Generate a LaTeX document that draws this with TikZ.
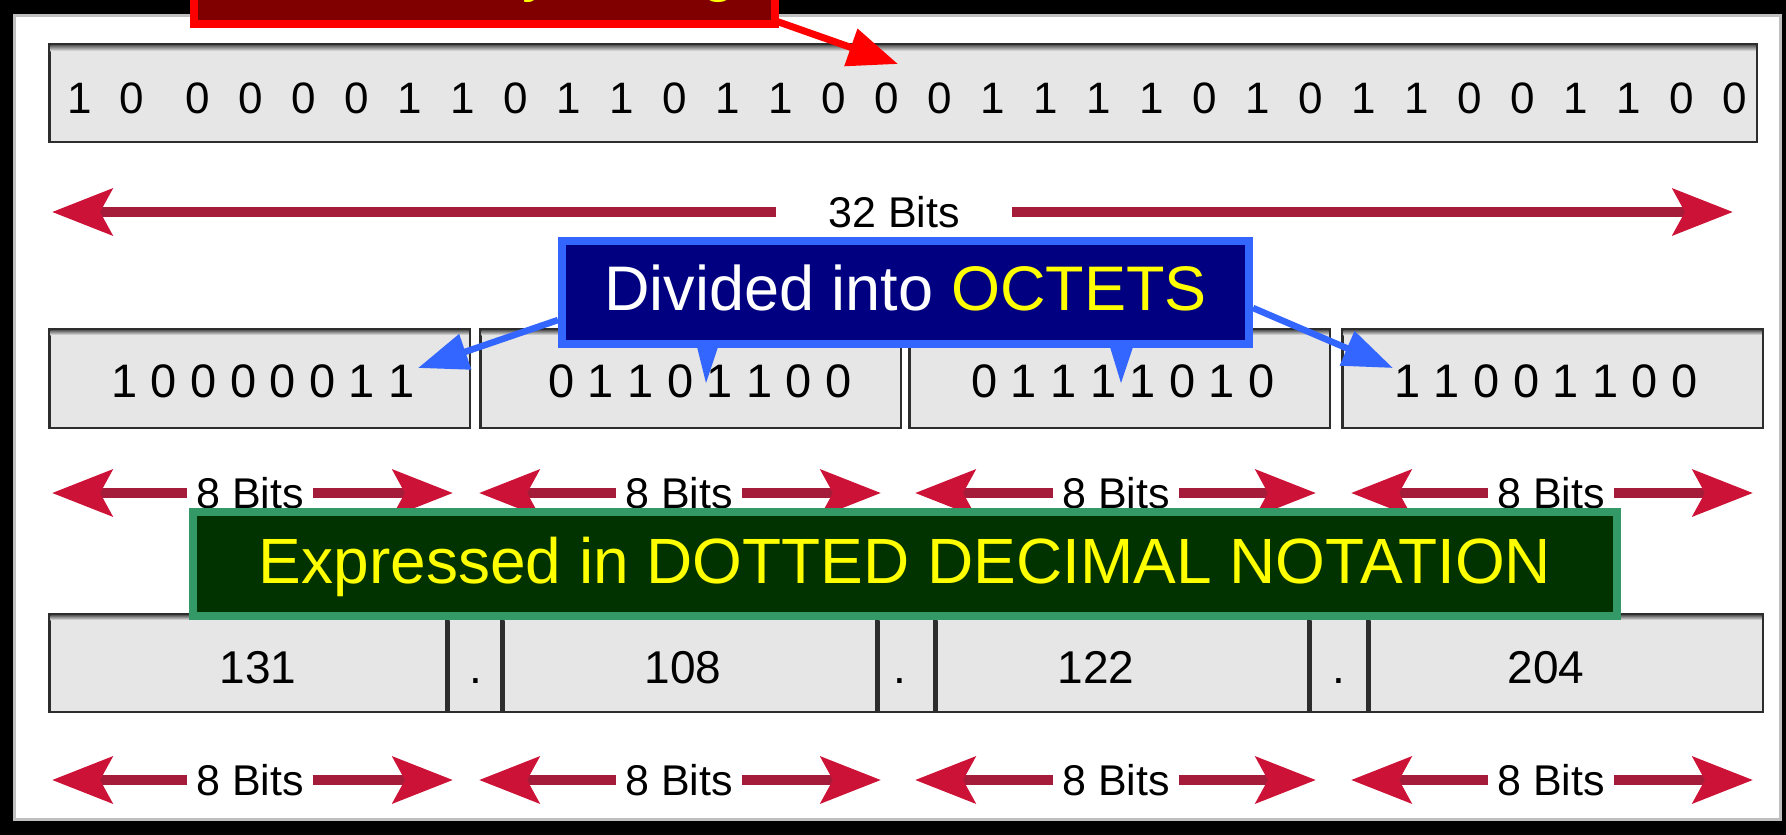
\documentclass[tikz,border=0pt]{standalone}
\usepackage{fontspec}
\setmainfont{Liberation Sans}
\usetikzlibrary{arrows.meta,calc}
\definecolor{cellfill}{RGB}{230,230,230}
\definecolor{celldraw}{RGB}{45,45,45}
\definecolor{crimhead}{RGB}{205,18,55}
\definecolor{crimshaft}{RGB}{165,28,58}
\definecolor{calloutblue}{RGB}{51,102,255}
\definecolor{navyfill}{RGB}{0,0,128}
\definecolor{maroonfill}{RGB}{128,0,0}
\definecolor{greenborder}{RGB}{51,153,102}
\definecolor{darkgreenfill}{RGB}{0,51,0}
\definecolor{ylw}{RGB}{255,255,0}
\newcommand\fs[1]{\fontsize{#1}{#1}\selectfont}
\newcommand\db[1]{\makebox[39.6pt]{#1}}
\newcommand\octd[8]{\db{#1}\db{#2}\db{#3}\db{#4}\db{#5}\db{#6}\db{#7}\db{#8}}
\tikzset{
  cell/.style={draw=celldraw, fill=cellfill, line width=2.5pt, inner sep=0pt},
  bitsnum/.style={font=\fs{44}, anchor=base, inner sep=0pt},
  octnum/.style={font=\fs{47}, anchor=base, inner sep=0pt},
  decnum/.style={font=\fs{46}, anchor=base, inner sep=0pt},
  bitlbl/.style={font=\fs{43}, text height=30pt, text depth=0pt, inner xsep=9pt, inner ysep=0pt},
  bitarrow/.style={draw=crimshaft, line width=10.5pt, -{Stealth[length=60pt, width=46pt, inset=12pt, color=crimhead]}},
  bluearrow/.style={draw=calloutblue, line width=6.5pt, -{Triangle[length=50pt, width=36pt]}},
  redptr/.style={draw=red, line width=7pt, -{Triangle[length=50pt, width=38pt]}},
  redbox/.style={draw=red, fill=maroonfill, line width=8pt, inner sep=0pt, text=ylw, font=\fs{63}},
  bluebox/.style={draw=calloutblue, fill=navyfill, line width=8pt, inner sep=0pt, text=white, font=\fs{63}},
  greenbox/.style={draw=greenborder, fill=darkgreenfill, line width=8pt, inner sep=0pt, text=ylw, font=\fs{64}},
  topshade/.style={top color=black!60, bottom color=cellfill}
}
\begin{document}
\begin{tikzpicture}[x=1pt,y=-1pt]
\useasboundingbox (0,0) rectangle (1786,835);
\clip (0,0) rectangle (1786,835);
% frame
\fill[black] (0,0) rectangle (1786,835);
\fill[white] (13,14) rectangle (1782,821);
\draw[black!25, line width=3pt] (14.5,15.5) rectangle (1780.5,819.5);

% 32-bit string
\node[cell, minimum width=1707.5pt, minimum height=97.5pt] (bin) at (903,93) {};
\shade[topshade] ([shift={(2.5pt,-2.5pt)}]bin.north west) rectangle ([shift={(-2.5pt,-8pt)}]bin.north east);
\foreach \d [count=\i from 0] in {1,0,0,0,0,0,1,1,0,1,1,0,1,1,0,0,0,1,1,1,1,0,1,0,1,1,0,0,1,1,0,0} {
  \pgfmathsetmacro\xx{\i==0 ? 80 : (\i==1 ? 132 : 198+53*(\i-2))}
  \node[bitsnum] (b\i) at (\xx,113) {\d};
}
\node[bitlbl, inner xsep=52pt] (l32) at (894,212) {32 Bits};
\coordinate (t32l) at (52,212);
\coordinate (t32r) at (1733,212);
\draw[bitarrow] (l32.west) -- (t32l);
\draw[bitarrow] (l32.east) -- (t32r);

% octets
\foreach \cx/\w [count=\k] in {259.5/420.5, 690.5/420.5, 1119.5/420.5, 1552.5/420.5} {
  \node[cell, minimum width=\w pt, minimum height=98.5pt] (oc\k) at (\cx,378.5) {};
  \shade[topshade] ([shift={(2.5pt,-2.5pt)}]oc\k.north west) rectangle ([shift={(-2.5pt,-7pt)}]oc\k.north east);
}
\node[octnum] (o1) at (263,397) {\octd 10000011};
\node[octnum] (o2) at (700,397) {\octd 01101100};
\node[octnum] (o3) at (1123,397) {\octd 01111010};
\node[octnum] (o4) at (1546,397) {\octd 11001100};

% decimal row
\foreach \l/\r [count=\k] in {48/447, 447/502, 502/877, 877/935, 935/1309, 1309/1368, 1368/1764} {
  \pgfmathsetmacro\cw{\r-\l-2.5}
  \pgfmathsetmacro\cx{(\l+\r)/2}
  \node[cell, minimum width=\cw pt, minimum height=97.5pt] (dc\k) at (\cx,663) {};
  \shade[topshade] ([shift={(2.5pt,-2.5pt)}]dc\k.north west) rectangle ([shift={(-2.5pt,-7pt)}]dc\k.north east);
}
\node[decnum] (d1) at (258,683) {131};
\node[decnum] (p1) at (476,683) {.};
\node[decnum] (d2) at (683,683) {108};
\node[decnum] (p2) at (900,683) {.};
\node[decnum] (d3) at (1096,683) {122};
\node[decnum] (p3) at (1339,683) {.};
\node[decnum] (d4) at (1546,683) {204};

% 8-bit arrows
\foreach \row/\yy in {a/493, b/780} {
  \foreach \c/\l/\r [count=\k] in {250/52/453, 679/479/881, 1116/915/1316, 1551/1351/1753} {
    \node[bitlbl] (\row\k) at (\c,\yy) {8 Bits};
    \coordinate (\row\k L) at (\l,\yy);
    \coordinate (\row\k R) at (\r,\yy);
    \draw[bitarrow] (\row\k.west) -- (\row\k L);
    \draw[bitarrow] (\row\k.east) -- (\row\k R);
  }
}

% blue callout
\node[bluebox, minimum width=687pt, minimum height=103pt, text height=35pt, text depth=0pt] (blue) at (905.5,292.5) {Divided into \textcolor{ylw}{OCTETS}};
\coordinate (bt1) at (418,368);
\coordinate (bt4) at (1393,368);
\draw[bluearrow] ([yshift=-27.5pt]blue.west) -- (bt1);
\draw[bluearrow] ([yshift=-15.5pt]blue.east) -- (bt4);
\fill[calloutblue] (697,347) -- (706,383) -- (718,347) -- cycle;
\fill[calloutblue] (1110,347) -- (1121,383) -- (1133,347) -- cycle;

% red callout
\node[redbox, minimum width=581pt, minimum height=92pt, text height=24pt, text depth=0pt] (red) at (484.5,-22) {IPv4 Binary String};
\coordinate (rt) at (898,64);
\draw[redptr] ([xshift=-6pt,yshift=8pt]red.south east) -- (rt);

% green callout
\node[greenbox, minimum width=1424pt, minimum height=104pt, text height=38pt, text depth=0pt] (green) at (905,564) {Expressed in DOTTED DECIMAL NOTATION};
\end{tikzpicture}
\end{document}
